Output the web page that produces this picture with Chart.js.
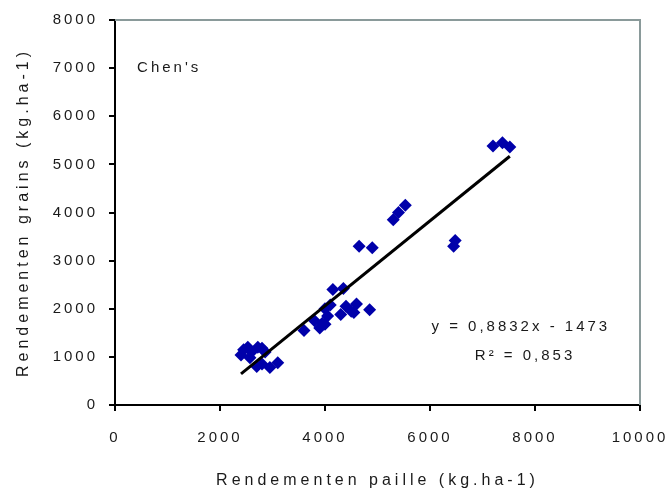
<!DOCTYPE html>
<html>
<head>
<meta charset="utf-8">
<script src="https://cdn.jsdelivr.net/npm/chart.js@4/dist/chart.umd.min.js"></script>
<style>
  html, body { margin: 0; padding: 0; background: #fff; }
  #wrap { width: 666px; height: 490px; }
</style>
</head>
<body>
<div id="wrap"><canvas id="chenChart"></canvas></div>
<script>
// rendement paille (x) vs rendement grains (y), kg/ha
const pailleX = [
  2400, 2450, 2530, 2600, 2720, 2800, 2860, 2570, 2700, 2800, 2950, 3100,
  3600, 3800, 3900, 3950, 4000, 4050, 4100, 4000, 4150, 4350, 4300, 4400,
  4500, 4600, 4550, 4850, 4650, 4900, 5300, 5400, 5530, 6450, 6480,
  7200, 7380, 7520,
];
const grainsY = [
  1040, 1150, 1200, 1100, 1200, 1180, 1100, 980, 800, 850, 780, 880,
  1550, 1750, 1600, 1700, 2000, 1850, 2080, 1680, 2400, 2420, 1880, 2050,
  1950, 2100, 1920, 1980, 3300, 3270, 3850, 4000, 4150, 3300, 3420,
  5380, 5450, 5360,
];

// droite de régression
const slope = 0.8832;
const intercept = -1473;
const r2 = '0,853';
const fitRange = [2400, 7520];

const xTicks = [0, 2000, 4000, 6000, 8000, 10000];
const yTicks = [0, 1000, 2000, 3000, 4000, 5000, 6000, 7000, 8000];

const points = pailleX.map((x, i) => ({ x, y: grainsY[i] }));
const fitLine = fitRange.map((x) => ({ x, y: slope * x + intercept }));

const font = 'Liberation Sans, Arial, sans-serif';

// titres d'axes plus espacés que les graduations
function spacedTitle(scale) {
  if (scale._spaced) return;
  const orig = scale.drawTitle.bind(scale);
  scale.drawTitle = function (area) {
    const ctx = this.ctx;
    const prev = ctx.letterSpacing;
    ctx.letterSpacing = '4px';
    orig(area);
    ctx.letterSpacing = prev;
  };
  scale._spaced = true;
}

const chartDecor = {
  id: 'chartDecor',
  beforeLayout(chart) {
    chart.ctx.letterSpacing = '3px';
  },
  beforeDraw(chart) {
    chart.ctx.letterSpacing = '3px';
    spacedTitle(chart.scales.x);
    spacedTitle(chart.scales.y);
  },
  beforeDatasetsDraw(chart) {
    const { ctx, chartArea: a } = chart;
    ctx.save();
    ctx.strokeStyle = '#8a9a9a';
    ctx.lineWidth = 2;
    ctx.beginPath();
    ctx.moveTo(a.left, a.top);
    ctx.lineTo(a.right, a.top);
    ctx.lineTo(a.right, a.bottom);
    ctx.stroke();
    ctx.restore();
  },
  afterDraw(chart) {
    const { ctx, scales } = chart;
    const sx = scales.x, sy = scales.y;
    ctx.save();
    ctx.letterSpacing = '3px';
    ctx.fillStyle = '#1a1a1a';
    ctx.font = '15px ' + font;
    ctx.textBaseline = 'middle';
    ctx.textAlign = 'left';
    ctx.fillText("Chen's", sx.getPixelForValue(420), sy.getPixelForValue(7000));
    ctx.textAlign = 'center';
    ctx.fillText('y = 0,8832x - 1473', sx.getPixelForValue(7730), sy.getPixelForValue(1620));
    ctx.fillText('R² = ' + r2, sx.getPixelForValue(7810), sy.getPixelForValue(1020));
    ctx.restore();
  },
};

new Chart(document.getElementById('chenChart'), {
  type: 'scatter',
  data: {
    datasets: [
      {
        type: 'line',
        data: fitLine,
        borderColor: '#000',
        borderWidth: 3,
        pointRadius: 0,
        order: 0,
      },
      {
        data: points,
        backgroundColor: '#0000aa',
        borderColor: '#0000aa',
        pointStyle: 'rectRot',
        pointRadius: 6.5,
        borderWidth: 0,
        order: 1,
      },
    ],
  },
  options: {
    responsive: true,
    maintainAspectRatio: false,
    animation: false,
    layout: { padding: { left: 0, right: 26, top: 20, bottom: 0 } },
    plugins: { legend: { display: false }, tooltip: { enabled: false } },
    scales: {
      x: {
        type: 'linear',
        min: 0,
        max: 10000,
        afterBuildTicks: (s) => { s.ticks = xTicks.map((v) => ({ value: v })); },
        afterFit: (s) => {
          s.height = 85;
          s.paddingLeft = 0;
          s.paddingRight = 0;
        },
        border: { color: '#000', width: 2 },
        grid: { drawOnChartArea: false, drawTicks: true, tickLength: 6, color: '#000', lineWidth: 2 },
        ticks: {
          color: '#1a1a1a',
          font: { family: font, size: 15 },
          padding: 18,
          maxRotation: 0,
          callback: (v) => String(v),
        },
        title: {
          display: true,
          text: 'Rendementen paille (kg.ha-1)',
          color: '#1a1a1a',
          font: { family: font, size: 16 },
          padding: { top: 2, bottom: 0 },
        },
      },
      y: {
        type: 'linear',
        min: 0,
        max: 8000,
        afterBuildTicks: (s) => { s.ticks = yTicks.map((v) => ({ value: v })); },
        afterFit: (s) => { s.width = 115; },
        border: { color: '#000', width: 2 },
        grid: { drawOnChartArea: false, drawTicks: true, tickLength: 6, color: '#000', lineWidth: 2 },
        ticks: {
          color: '#1a1a1a',
          font: { family: font, size: 15 },
          padding: 11,
          callback: (v) => String(v),
        },
        title: {
          display: true,
          text: 'Rendementen grains (kg.ha-1)',
          color: '#1a1a1a',
          font: { family: font, size: 16 },
          padding: { top: 14, bottom: 0 },
        },
      },
    },
  },
  plugins: [chartDecor],
});
</script>
</body>
</html>
